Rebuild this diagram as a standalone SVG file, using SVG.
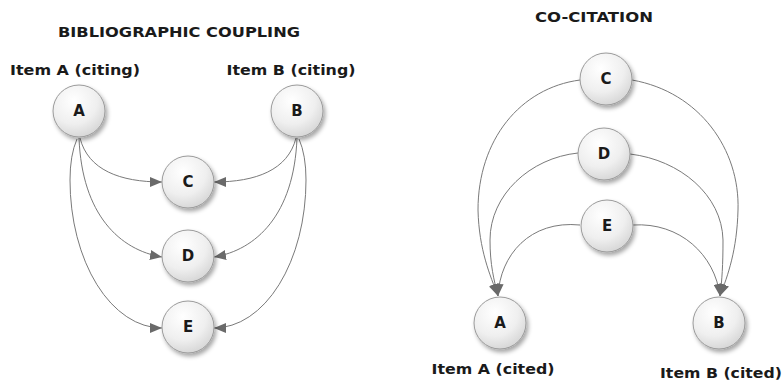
<svg xmlns="http://www.w3.org/2000/svg" width="783" height="381" viewBox="0 0 783 381">
<style>
.lbl{font-family:"DejaVu Sans","Liberation Sans",sans-serif;font-weight:bold;fill:#1a1a1a;text-anchor:middle}
.title{font-size:13.5px}
.item{font-size:14px}
.nl{font-size:15px}
.node circle{fill:url(#g);stroke:#9a9a9a;stroke-width:1;filter:url(#sh)}
.edge{fill:none;stroke:#7a7a7a;stroke-width:1;marker-end:url(#arr)}
</style>
<defs>
<radialGradient id="g" cx="0.4" cy="0.3" r="0.75">
<stop offset="0" stop-color="#ffffff"/>
<stop offset="0.6" stop-color="#efefef"/>
<stop offset="1" stop-color="#d4d4d4"/>
</radialGradient>
<filter id="sh" x="-30%" y="-30%" width="170%" height="170%">
<feDropShadow dx="2" dy="3" stdDeviation="2" flood-color="#000" flood-opacity="0.35"/>
</filter>
<marker id="arr" viewBox="0 0 12 10" refX="12" refY="5" markerWidth="12" markerHeight="10" markerUnits="userSpaceOnUse" orient="auto">
<path d="M0,0 L12,5 L0,10 z" fill="#6a6a6a"/>
</marker>
</defs>
<rect width="783" height="381" fill="#fff"/>
<text class="lbl title" x="179" y="37" textLength="242" lengthAdjust="spacingAndGlyphs">BIBLIOGRAPHIC COUPLING</text>
<text class="lbl title" x="594" y="22" textLength="118" lengthAdjust="spacingAndGlyphs">CO-CITATION</text>
<text class="lbl item" x="75" y="75" textLength="130" lengthAdjust="spacingAndGlyphs">Item A (citing)</text>
<text class="lbl item" x="291" y="75" textLength="129" lengthAdjust="spacingAndGlyphs">Item B (citing)</text>
<text class="lbl item" x="493" y="374" textLength="123" lengthAdjust="spacingAndGlyphs">Item A (cited)</text>
<text class="lbl item" x="721" y="378" textLength="122" lengthAdjust="spacingAndGlyphs">Item B (cited)</text>
<g id="connectors">
<path class="edge" d="M80,138 C88,170 120,182 162,182"/>
<path class="edge" d="M79,138 C82,215 120,250 162,257"/>
<path class="edge" d="M77,139 Q70,155 70,180 A92,148 0 0 0 162,328"/>
<path class="edge" d="M296,138 C288,170 256,182 214,182"/>
<path class="edge" d="M297,138 C294,215 256,250 214,257"/>
<path class="edge" d="M299,139 Q306,155 306,180 A92,148 0 0 1 214,328"/>
<path class="edge" d="M580,80 C520,88 478,140 478,210 C479,250 490,275 498,296"/>
<path class="edge" d="M578,153 C530,158 490,195 490,240 C490,265 494,280 498,296"/>
<path class="edge" d="M580,225 C530,220 500,255 498,296"/>
<path class="edge" d="M632,80 C700,92 740,150 738,210 C737,250 728,275 720,296"/>
<path class="edge" d="M630,154 C680,160 722,195 723,240 C723,265 722,280 720,296"/>
<path class="edge" d="M633,225 C680,222 715,255 720,296"/>
</g>
<g id="nodeL_A" class="node"><circle cx="79" cy="111" r="26"/><text class="lbl nl" x="79" y="116">A</text></g>
<g id="nodeL_B" class="node"><circle cx="297" cy="111" r="26"/><text class="lbl nl" x="297" y="116">B</text></g>
<g id="nodeL_C" class="node"><circle cx="188" cy="182" r="26"/><text class="lbl nl" x="188" y="187">C</text></g>
<g id="nodeL_D" class="node"><circle cx="188" cy="256" r="26"/><text class="lbl nl" x="188" y="261">D</text></g>
<g id="nodeL_E" class="node"><circle cx="188" cy="327" r="26"/><text class="lbl nl" x="188" y="332">E</text></g>
<g id="nodeR_C" class="node"><circle cx="606" cy="79" r="26"/><text class="lbl nl" x="606" y="84">C</text></g>
<g id="nodeR_D" class="node"><circle cx="604" cy="154" r="26"/><text class="lbl nl" x="604" y="159">D</text></g>
<g id="nodeR_E" class="node"><circle cx="607" cy="226" r="26"/><text class="lbl nl" x="607" y="231">E</text></g>
<g id="nodeR_A" class="node"><circle cx="500" cy="323" r="26"/><text class="lbl nl" x="500" y="328">A</text></g>
<g id="nodeR_B" class="node"><circle cx="719" cy="323" r="26"/><text class="lbl nl" x="719" y="328">B</text></g>
</svg>
